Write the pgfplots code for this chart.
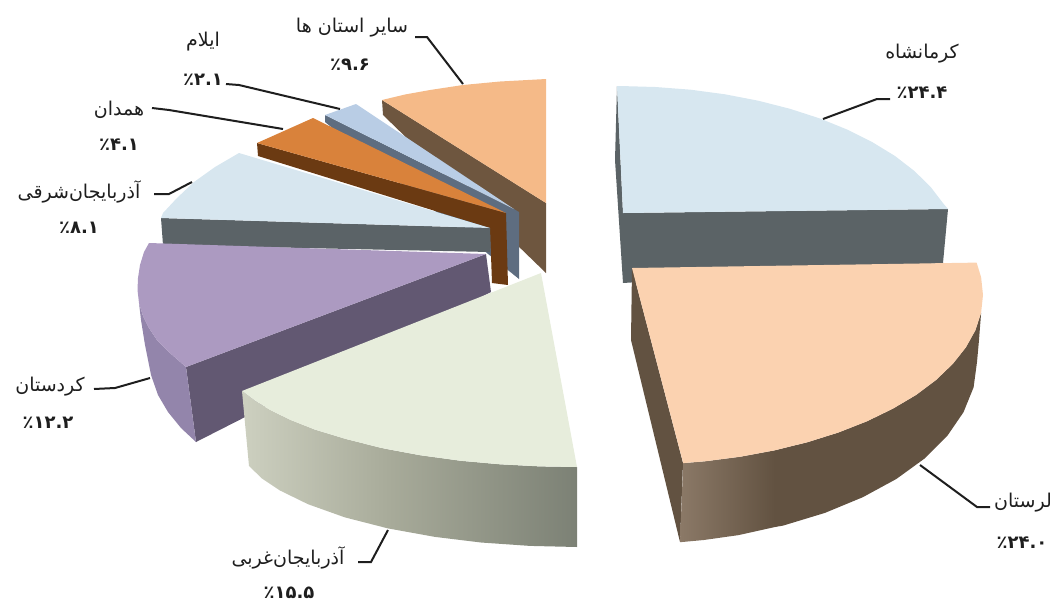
\documentclass[border=0pt]{standalone}
\usepackage{fontspec}
\usepackage{pgfplots}
\pgfplotsset{compat=1.18}
\TeXXeTstate=1
\newfontfamily\arabicfont[Script=Arabic]{DejaVu Sans}
\newcommand\fs[1]{\fontsize{#1}{#1}\arabicfont}
\definecolor{kerT}{HTML}{D7E7F0}\definecolor{kerS}{HTML}{5B6366}
\definecolor{lorT}{HTML}{FBD2B0}\definecolor{lorS}{HTML}{625241}\definecolor{lorL}{HTML}{8B7967}
\definecolor{ornT}{HTML}{F5BA88}\definecolor{ornS}{HTML}{6E563F}
\definecolor{ilaT}{HTML}{B9CDE5}\definecolor{ilaS}{HTML}{5E6D80}
\definecolor{hamT}{HTML}{D9823B}\definecolor{hamS}{HTML}{6B3A12}
\definecolor{eazT}{HTML}{D7E6EF}\definecolor{eazS}{HTML}{5B6367}
\definecolor{purT}{HTML}{AC9AC1}\definecolor{purS}{HTML}{625872}\definecolor{purR}{HTML}{9385AB}
\definecolor{greT}{HTML}{E7EDDC}\definecolor{greA}{HTML}{CDD0C0}\definecolor{greB}{HTML}{A8AB9A}\definecolor{greC}{HTML}{7C8175}
\definecolor{ink}{HTML}{1E1E1E}
\begin{document}
\begin{tikzpicture}
\begin{axis}[scale only axis,width=1057pt,height=606pt,xmin=0,xmax=1057,ymin=0,ymax=606,y dir=reverse,hide axis,clip=false]
\path[use as bounding box] (axis cs:0,0) rectangle (axis cs:1057,606);
% Kermanshah
\addplot[draw=none,fill=kerS] coordinates {(617,86)(615,160)(623,283)(943,263)(948,209)(623,213)} -- cycle;
\addplot[draw=none,fill=kerT] coordinates {(617,86)(620,86)(655.5,87)(690.7,89.7)(725,94.3)(758.3,100.7)(790,108.8)(820,118.5)(847.5,129.7)(872.6,142.3)(895,156)(914.4,171)(930.6,186.9)(943.3,203.5)(948,209)(623,213)} -- cycle;
% other provinces
\addplot[draw=none,fill=ornS] coordinates {(382,100)(383,115)(546,273)(546,203)} -- cycle;
\addplot[draw=none,fill=ornT] coordinates {(382,100)(405,94.5)(430,90)(463,85)(500,81.5)(546,79)(546,203)} -- cycle;
% Ilam
\addplot[draw=none,fill=ilaS] coordinates {(325,115)(325,122)(519,279)(519,212)(514,209)} -- cycle;
\addplot[draw=none,fill=ilaT] coordinates {(325,115)(356,104)(514,209)} -- cycle;
% Hamedan
\addplot[draw=none,fill=hamS] coordinates {(257,143)(258,156)(490,228)(492,283)(508,285)(506,213)} -- cycle;
\addplot[draw=none,fill=hamT] coordinates {(257,143)(313,118)(506,213)} -- cycle;
% East Azerbaijan
\addplot[draw=none,fill=eazS] coordinates {(161,218)(163,245)(490,252)(490,228)} -- cycle;
\addplot[draw=none,fill=eazT] coordinates {(239,153)(215,167)(194,182)(177,198)(163,213)(161,218)(490,228)} -- cycle;
% Kordestan
\addplot[draw=none,fill=purS] coordinates {(186,367)(196,442)(491,292)(486,254)} -- cycle;
\addplot[draw=none,fill=purR] coordinates {(139,303)(143,316)(149,328)(157,340)(170,353)(186,367)(196,442)(181,428)(168,412)(158,395)(151,375)(145,345)(141,320)} -- cycle;
\addplot[draw=none,fill=purT] coordinates {(149,243)(144,252)(140,265)(138,278)(137.5,290)(139,303)(143,316)(149,328)(157,340)(170,353)(186,367)(486,254)} -- cycle;
% West Azerbaijan
\addplot[draw=none,left color=greA,right color=greB] coordinates {(242,391)(255,400.8)(270,409.8)(290,419.7)(315,429.6)(346,439)(380,447.6)(388,449.3)(388,528.4)(345,517.4)(308,504.2)(280,490.5)(262,478.5)(249,466)} -- cycle;
\addplot[draw=none,left color=greB,right color=greC] coordinates {(388,449.3)(420,455.2)(461,460.8)(500,464.3)(540,466.4)(577,467)(577,547)(530,545.9)(481,542.5)(435,536.9)(388,528.4)} -- cycle;
\addplot[draw=none,fill=greT] coordinates {(541,273)(577,467)(540,466.4)(500,464.3)(461,460.8)(420,455.2)(380,447.6)(346,439)(315,429.6)(290,419.7)(270,409.8)(255,400.8)(242,391)} -- cycle;
% Lorestan
\addplot[draw=none,fill=lorS] coordinates {(632,268)(631,340)(680,542)(683,463)} -- cycle;
\addplot[draw=none,left color=lorL,right color=lorS] coordinates {(683.2,463.1)(705,461.3)(740.5,456.7)(774.8,450.3)(775,527)(738.6,535.1)(703.8,540)(680,542.2)} -- cycle;
\addplot[draw=none,fill=lorS] coordinates {(774.8,450.3)(807.5,442.2)(838.4,432.5)(866.9,421.3)(892.8,408.7)(916,395)(936,380)(952.6,364.1)(965.8,347.5)(975.3,330.4)(981.1,312.8)(979,340)(977,362)(973.6,387.3)(963.5,412.2)(947.2,436)(924.6,458.5)(896.3,479)(862.8,497.2)(824.9,512.9)(783.1,525.6)(775,527)} -- cycle;
\addplot[draw=none,fill=lorT] coordinates {(632,268)(976.6,262.6)(981.1,277.2)(983,295)(981.1,312.8)(975.3,330.4)(965.8,347.5)(952.6,364.1)(936,380)(916,395)(892.8,408.7)(866.9,421.3)(838.4,432.5)(807.5,442.2)(774.8,450.3)(740.5,456.7)(705,461.3)(683.2,463.1)} -- cycle;
% leader lines
\addplot[ink,line width=2pt] coordinates {(415,37)(427,37)(463,84)};
\addplot[ink,line width=2pt] coordinates {(226,84)(239,85)(340,109)};
\addplot[ink,line width=2pt] coordinates {(152,108)(169,110)(283,129)};
\addplot[ink,line width=2pt] coordinates {(154,194)(169,194)(192,182)};
\addplot[ink,line width=2pt] coordinates {(890,99)(877,99)(823,119)};
\addplot[ink,line width=2pt] coordinates {(990,507)(977,507)(920,465)};
\addplot[ink,line width=2pt] coordinates {(94,389)(115,388)(150,378)};
\addplot[ink,line width=2pt] coordinates {(358,562)(371,562)(388,530)};
% labels
\node[text=ink] at (axis cs:352,28) {\fs{19}\beginR سایر استان ها\endR};
\node[text=ink] at (axis cs:350,65) {\fs{18}\bfseries\beginL ٪۹.۶\endL};
\node[text=ink] at (axis cs:203,42) {\fs{19}\beginR ایلام\endR};
\node[text=ink] at (axis cs:203,80) {\fs{18}\bfseries\beginL ٪۲.۱\endL};
\node[text=ink] at (axis cs:119,110) {\fs{19}\beginR همدان\endR};
\node[text=ink] at (axis cs:119,145) {\fs{18}\bfseries\beginL ٪۴.۱\endL};
\node[text=ink] at (axis cs:79,192) {\fs{19}\beginR آذربایجان‌شرقی\endR};
\node[text=ink] at (axis cs:79,228) {\fs{18}\bfseries\beginL ٪۸.۱\endL};
\node[text=ink] at (axis cs:922,54) {\fs{19}\beginR کرمانشاه\endR};
\node[text=ink] at (axis cs:922,93) {\fs{18}\bfseries\beginL ٪۲۴.۴\endL};
\node[text=ink] at (axis cs:1023,503) {\fs{19}\beginR لرستان\endR};
\node[text=ink] at (axis cs:1022,543) {\fs{18}\bfseries\beginL ٪۲۴.۰\endL};
\node[text=ink] at (axis cs:50,387) {\fs{19}\beginR کردستان\endR};
\node[text=ink] at (axis cs:48,423) {\fs{18}\bfseries\beginL ٪۱۲.۲\endL};
\node[text=ink] at (axis cs:288,558) {\fs{19}\beginR آذربایجان‌غربی\endR};
\node[text=ink] at (axis cs:289,593) {\fs{18}\bfseries\beginL ٪۱۵.۵\endL};
\end{axis}
\end{tikzpicture}
\end{document}
